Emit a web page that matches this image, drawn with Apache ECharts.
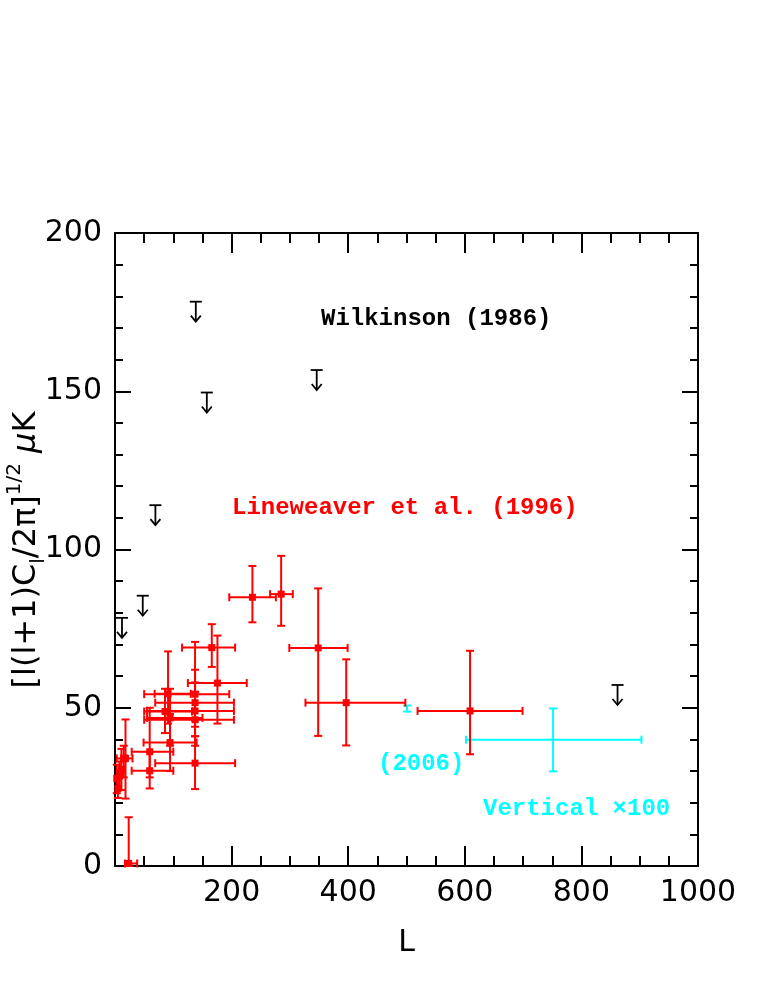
<!DOCTYPE html>
<html>
<head>
<meta charset="utf-8">
<script src="https://cdn.jsdelivr.net/npm/echarts@6/dist/echarts.min.js"></script>
<style>html,body{margin:0;padding:0;background:#fff;}#c{width:763px;height:981px;}</style>
</head>
<body>
<div id="c"></div>
<script>
// Lineweaver et al. (1996): [L, value, Lmin, Lmax, valueMin, valueMax]
const lineweaver = [
  [3, 27.7, 2, 4, 23, 32],
  [5, 24.5, 3, 7, 21.5, 28],
  [8, 28.5, 5, 11, 24, 33],
  [11, 30.5, 8, 16, 24, 37],
  [15, 34, 11, 20, 28, 38],
  [18, 34, 3, 30, 21.3, 46.3],
  [23.5, 0.8, 17, 38, 0, 15.4],
  [59.5, 36.1, 28.6, 100, 28, 50],
  [59.5, 30.1, 28.6, 100, 24.5, 36],
  [94.4, 39, 49, 140, 30, 48],
  [94.4, 46.8, 55, 150, 38, 56],
  [85.8, 48.8, 50, 132, 42, 56],
  [91, 54.4, 68, 130, 45, 67.8],
  [137.3, 54.3, 50, 196, 46, 70.8],
  [137.3, 51.6, 69, 204, 44, 62],
  [137.3, 49, 55, 204, 41, 58],
  [137.3, 46.2, 50, 204, 38, 55],
  [137.3, 32.5, 69, 206, 24.3, 41],
  [166, 69, 115, 206, 62.9, 76.4],
  [175.7, 57.8, 125, 226, 45, 72.8],
  [235.7, 84.9, 196, 276, 77, 94.8],
  [285, 85.9, 266, 305, 75.9, 98],
  [348.5, 68.9, 299, 399, 41.1, 87.7],
  [396.6, 51.6, 326.7, 498, 38.1, 65.3],
  [609, 49, 519, 699, 35.3, 68]
];
// 2006 points (vertical x100): [L, value, Lmin, Lmax, valueMin, valueMax]
const points2006 = [
  [501, 49.8, 501, 501, 48.8, 50.7],
  [751.4, 39.9, 602, 903, 29.9, 49.8]
];
// Wilkinson (1986) upper limits: [L, value]
const wilkinson = [
  [12, 78.4], [47.6, 85.4], [69.3, 114], [138.6, 178.3],
  [157.5, 149.6], [346, 156.7], [862, 57.2]
];
const xTicks = [0, 200, 400, 600, 800, 1000];
const yTicks = [0, 50, 100, 150, 200];

function errRender(color, marker) {
  return function (params, api) {
    const p = api.coord([api.value(0), api.value(1)]);
    const xl = api.coord([api.value(2), api.value(1)]);
    const xh = api.coord([api.value(3), api.value(1)]);
    const yl = api.coord([api.value(0), api.value(4)]);
    const yh = api.coord([api.value(0), api.value(5)]);
    const c = 4;
    const st = { stroke: color, lineWidth: 2 };
    const ch = [];
    if (xh[0] - xl[0] > 1) {
      ch.push({ type: 'line', shape: { x1: xl[0], y1: p[1], x2: xh[0], y2: p[1] }, style: st });
      ch.push({ type: 'line', shape: { x1: xl[0], y1: p[1] - c, x2: xl[0], y2: p[1] + c }, style: st });
      ch.push({ type: 'line', shape: { x1: xh[0], y1: p[1] - c, x2: xh[0], y2: p[1] + c }, style: st });
    }
    if (yl[1] - yh[1] > 1) {
      ch.push({ type: 'line', shape: { x1: p[0], y1: yl[1], x2: p[0], y2: yh[1] }, style: st });
      ch.push({ type: 'line', shape: { x1: p[0] - c, y1: yl[1], x2: p[0] + c, y2: yl[1] }, style: st });
      ch.push({ type: 'line', shape: { x1: p[0] - c, y1: yh[1], x2: p[0] + c, y2: yh[1] }, style: st });
    }
    if (marker) {
      ch.push({ type: 'rect', shape: { x: p[0] - 3.5, y: p[1] - 3.5, width: 7, height: 7 }, style: { fill: color } });
    }
    return { type: 'group', children: ch };
  };
}

function limitRender(params, api) {
  const p = api.coord([api.value(0), api.value(1)]);
  const st = { stroke: '#000', lineWidth: 1.8, fill: null };
  const x = p[0], y = p[1];
  return {
    type: 'group', children: [
      { type: 'line', shape: { x1: x - 6, y1: y, x2: x + 6, y2: y }, style: st },
      { type: 'line', shape: { x1: x, y1: y, x2: x, y2: y + 20 }, style: st },
      { type: 'polyline', shape: { points: [[x - 5, y + 14], [x, y + 20], [x + 5, y + 14]] }, style: st }
    ]
  };
}

const chart = echarts.init(document.getElementById('c'), null, { renderer: 'canvas' });
const axisFont = { fontFamily: 'DejaVu Sans', fontSize: 30, color: '#000' };
const xBase = {
  min: xTicks[0], max: xTicks[xTicks.length - 1], interval: 200, type: 'value',
  axisLine: { show: true, onZero: false, lineStyle: { color: '#000', width: 2 } },
  axisTick: { show: true, inside: true, length: 20, lineStyle: { color: '#000', width: 2 } },
  minorTick: { show: true, splitNumber: 4, length: 10, lineStyle: { color: '#000', width: 2 } },
  splitLine: { show: false }
};
const yBase = {
  min: yTicks[0], max: yTicks[yTicks.length - 1], interval: 50, type: 'value',
  axisLine: { show: true, onZero: false, lineStyle: { color: '#000', width: 2 } },
  axisTick: { show: true, inside: true, length: 16, lineStyle: { color: '#000', width: 2 } },
  minorTick: { show: true, splitNumber: 5, length: 8, lineStyle: { color: '#000', width: 2 } },
  splitLine: { show: false }
};
const monoFont = 'Liberation Mono';
chart.setOption({
  animation: false,
  backgroundColor: '#fff',
  grid: { left: 115, right: 65, top: 233, bottom: 115 },
  xAxis: [
    Object.assign({}, xBase, {
      position: 'bottom',
      axisLabel: Object.assign({ margin: 12, showMinLabel: false, formatter: v => String(v) }, axisFont),
      name: 'L', nameLocation: 'middle', nameGap: 62,
      nameTextStyle: { fontFamily: 'DejaVu Sans', fontSize: 30, color: '#000' }
    }),
    Object.assign({}, xBase, { position: 'top', axisLabel: { show: false } })
  ],
  yAxis: [
    Object.assign({}, yBase, { position: 'left', axisLabel: Object.assign({ margin: 13, formatter: v => String(v) }, axisFont) }),
    Object.assign({}, yBase, { position: 'right', axisLabel: { show: false } })
  ],
  graphic: [
    { type: 'text', left: 321, top: 307, style: { text: 'Wilkinson (1986)', fontFamily: monoFont, fontWeight: 'bold', fontSize: 24, fill: '#000' } },
    { type: 'text', left: 232, top: 496, style: { text: 'Lineweaver et al. (1996)', fontFamily: monoFont, fontWeight: 'bold', fontSize: 24, fill: '#f00' } },
    { type: 'text', left: 378, top: 752, style: { text: '(2006)', fontFamily: monoFont, fontWeight: 'bold', fontSize: 24, fill: '#0ff' } },
    { type: 'text', left: 483, top: 797, style: { text: 'Vertical \u00d7100', fontFamily: monoFont, fontWeight: 'bold', fontSize: 24, fill: '#0ff' } },
    {
      type: 'text', x: 27, y: 550, rotation: Math.PI / 2,
      style: {
        x: 0, y: 0,
        text: '[l(l+1)C{sub|l}/2\u03c0]{sup|1/2} {it|\u03bc}K',
        textAlign: 'center', textVerticalAlign: 'middle',
        fontFamily: 'DejaVu Sans', fontSize: 32, fill: '#000', lineHeight: 44,
        rich: {
          sub: { fontFamily: 'DejaVu Sans', fontSize: 20, verticalAlign: 'bottom', lineHeight: 44, fill: '#000' },
          sup: { fontFamily: 'DejaVu Sans', fontSize: 20, verticalAlign: 'top', lineHeight: 44, fill: '#000' },
          it: { fontFamily: 'DejaVu Sans', fontStyle: 'italic', fontSize: 32, lineHeight: 44, fill: '#000' }
        }
      }
    }
  ],
  series: [
    { type: 'custom', renderItem: errRender('#ff0000', true), data: lineweaver, clip: false, z: 3 },
    { type: 'custom', renderItem: errRender('#00ffff', false), data: points2006, clip: false, z: 2 },
    { type: 'custom', renderItem: limitRender, data: wilkinson, clip: false, z: 4 }
  ]
});
</script>
</body>
</html>
